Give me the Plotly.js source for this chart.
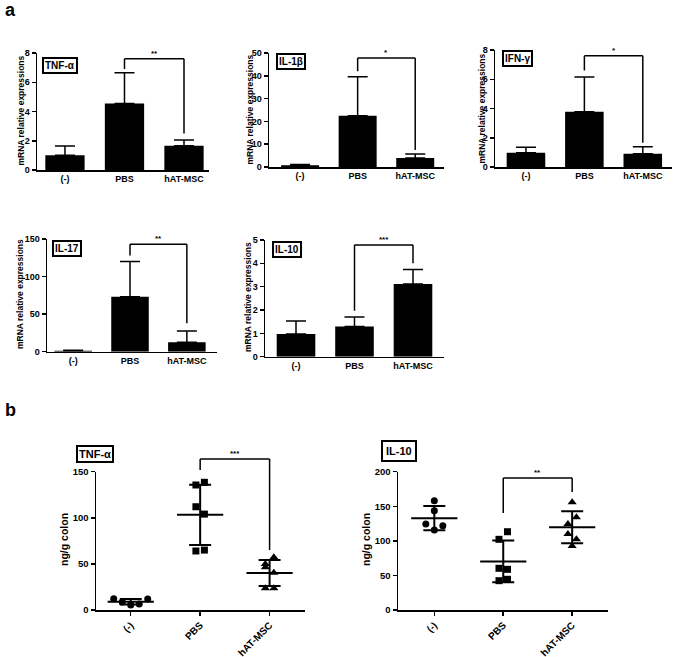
<!DOCTYPE html>
<html><head><meta charset="utf-8">
<script src="https://cdn.plot.ly/plotly-3.0.1.min.js"></script>
<style>html,body{margin:0;padding:0;background:#fff}#chart{width:675px;height:657px}</style>
</head><body><div id="chart"></div>
<script>
// ---------- DATA ----------
const groups = ['(-)', 'PBS', 'hAT-MSC'];
const namesA = ['TNF-α', 'IL-1β', 'IFN-γ', 'IL-17', 'IL-10'];
const namesB = ['TNF-α', 'IL-10'];
const yTitleA = 'mRNA relative expressions';
const yTitleB = 'ng/g colon';

// Panel a: mean and upper SD of mRNA relative expression
const tnfMean = [1.0, 4.55, 1.65];
const tnfErr  = [0.64, 2.1, 0.4];
const il1bMean = [0.8, 22.5, 3.9];
const il1bErr  = [0.35, 17.1, 1.8];
const ifngMean = [0.98, 3.78, 0.91];
const ifngErr  = [0.37, 2.37, 0.48];
const il17Mean = [1.2, 73, 12.5];
const il17Err  = [0.8, 47, 15];
const il10Mean = [0.97, 1.29, 3.11];
const il10Err  = [0.56, 0.41, 0.63];

// Panel b: individual animals, ng/g colon
const tnfNeg = [12.2, 8.7, 5.4, 6.5, 11.9];
const tnfPBS = [135.6, 138.5, 112, 104, 64, 65];
const tnfHAT = [49.9, 57.2, 46.3, 40.5, 23.5, 23.5];
const il10Neg = [158, 143.6, 124.4, 115.7, 122];
const il10PBS = [102.2, 113.2, 60.3, 58.8, 42.4, 44.4];
const il10HAT = [155.7, 124.3, 134, 109.9, 102.2, 92.5];

// Significance marks and bracket levels [left leg bottom, top, right leg bottom]
const sigA = ['**', '*', '*', '**', '***'];
const sigB = ['***', '**'];
const brA = [[6.9, 7.6, 2.5], [42, 47.8, 7.5], [6.6, 7.6, 1.65], [128, 143, 38], [1.97, 4.79, 4.0]];
const brB = [[151.8, 163.8, 65], [140.3, 190.9, 170.7]];

// ---------- LAYOUT HELPERS ----------
const W = 675, H = 657;
const FONT = 'Liberation Sans, Arial, sans-serif';
const BOLD = (size) => ({family: FONT, size: size, color: '#000', weight: 'bold'});
const domX = (p) => [p[0] / W, p[1] / W];
const domY = (p) => [1 - p[1] / H, 1 - p[0] / H];
const sfx = (i) => (i === 1 ? '' : String(i));

const barPanels = [
  {mean: tnfMean,  err: tnfErr,  ymax: 8,   dtick: 2,  px: [37, 209],  py: [53, 170],    xr: [-0.47, 2.42], box: [42, 57],   yt: [20.5, 111]},
  {mean: il1bMean, err: il1bErr, ymax: 50,  dtick: 10, px: [269, 444], py: [53, 167],    xr: [-0.54, 2.5],  box: [276, 53],  yt: [249.5, 110]},
  {mean: ifngMean, err: ifngErr, ymax: 8,   dtick: 2,  px: [495, 672], py: [50, 167],    xr: [-0.53, 2.5],  box: [502, 50],  yt: [481.5, 109]},
  {mean: il17Mean, err: il17Err, ymax: 150, dtick: 50, px: [47, 217],  py: [239, 351.7], xr: [-0.46, 2.53], box: [52, 240],  yt: [20, 294]},
  {mean: il10Mean, err: il10Err, ymax: 5,   dtick: 1,  px: [265, 444], py: [240, 356.7], xr: [-0.53, 2.53], box: [272, 241], yt: [248, 297]}
];
const scatPanels = [
  {sets: [tnfNeg, tnfPBS, tnfHAT],    ymax: 150, dtick: 50, px: [96, 305],  py: [471.7, 610], xr: [-0.5, 2.51],  box: [76, 445],  yt: [64, 540], pad: 1},
  {sets: [il10Neg, il10PBS, il10HAT], ymax: 200, dtick: 50, px: [398, 608], py: [471.7, 610], xr: [-0.527, 2.52], box: [381, 440], yt: [366, 540], pad: 3}
];
const symbols = ['circle', 'square', 'triangle-up'];

const traces = [];
const layout = {
  width: W, height: H, margin: {l: 0, r: 0, t: 0, b: 0},
  paper_bgcolor: '#fff', plot_bgcolor: '#fff', showlegend: false,
  font: {family: FONT, color: '#000'},
  shapes: [], annotations: []
};

function axisBase() {
  return {showline: true, linecolor: '#000', linewidth: 1.5, showgrid: false, zeroline: false, fixedrange: true,
          tickcolor: '#000', tickwidth: 1.5};
}

function addBracket(i, p, br, sig) {
  const fx = (v) => (v - p.xr[0]) / (p.xr[1] - p.xr[0]);
  const xs = [fx(1), fx(2)];
  const ys = br.map(v => v / p.ymax);
  const xref = 'x' + sfx(i) + ' domain', yref = 'y' + sfx(i) + ' domain';
  const ln = {color: '#000', width: 1.5};
  layout.shapes.push({type: 'line', xref, yref, x0: xs[0], x1: xs[0], y0: ys[0], y1: ys[1], line: ln});
  layout.shapes.push({type: 'line', xref, yref, x0: xs[0], x1: xs[1], y0: ys[1], y1: ys[1], line: ln});
  layout.shapes.push({type: 'line', xref, yref, x0: xs[1], x1: xs[1], y0: ys[1], y1: ys[2], line: ln});
  layout.annotations.push({xref, yref, x: fx(1.5), y: ys[1], text: sig, showarrow: false,
    xanchor: 'center', yanchor: 'bottom', yshift: -1, font: BOLD(8)});
}

function addBox(p, text, size) {
  layout.annotations.push({xref: 'paper', yref: 'paper', x: p.box[0] / W, y: 1 - p.box[1] / H, xanchor: 'left', yanchor: 'top',
    text: text, showarrow: false, bordercolor: '#000', borderwidth: 2, borderpad: p.pad || 1, bgcolor: '#fff', font: BOLD(size)});
}
function addYTitle(p, text, size) {
  layout.annotations.push({xref: 'paper', yref: 'paper', x: p.yt[0] / W, y: 1 - p.yt[1] / H, xanchor: 'center', yanchor: 'middle',
    text: text, textangle: -90, showarrow: false, font: BOLD(size)});
}

// ---------- PANEL a: bars ----------
barPanels.forEach((p, k) => {
  const i = k + 1, s = sfx(i);
  traces.push({type: 'bar', x: groups, y: p.mean, xaxis: 'x' + s, yaxis: 'y' + s, width: 0.66,
    marker: {color: '#000', line: {width: 0}},
    error_y: {type: 'data', symmetric: false, array: p.err, arrayminus: p.err.map(() => 0),
              color: '#000', thickness: 1.5, width: 10}});
  layout['xaxis' + s] = Object.assign(axisBase(), {domain: domX(p.px), anchor: 'y' + s, type: 'category',
    categoryarray: groups, range: p.xr, ticks: '', tickfont: BOLD(9)});
  layout['yaxis' + s] = Object.assign(axisBase(), {domain: domY(p.py), anchor: 'x' + s, range: [0, p.ymax],
    tick0: 0, dtick: p.dtick, ticks: 'outside', ticklen: 4, tickfont: BOLD(9)});
  addBracket(i, p, brA[k], sigA[k]);
  addBox(p, namesA[k], 10);
  addYTitle(p, yTitleA, 8.5);
});

// ---------- PANEL b: scatter dot plots ----------
function swarm(values, pxPerUnit, tolPx, stepPx) {
  const order = values.map((v, j) => j).sort((a, b) => values[b] - values[a]);
  const rows = []; let cur = null;
  order.forEach(j => {
    if (cur && (values[cur[0]] - values[j]) * pxPerUnit <= tolPx) cur.push(j);
    else { cur = [j]; rows.push(cur); }
  });
  const off = values.map(() => 0);
  rows.forEach(r => { r.sort((a, b) => a - b); r.forEach((j, q) => { off[j] = (q - (r.length - 1) / 2) * stepPx; }); });
  return off;
}
const meanOf = a => a.reduce((s, v) => s + v, 0) / a.length;
const sdOf = a => { const m = meanOf(a); return Math.sqrt(a.reduce((s, v) => s + (v - m) * (v - m), 0) / (a.length - 1)); };

scatPanels.forEach((p, k) => {
  const i = 6 + k, s = sfx(i);
  const pxPerY = (p.py[1] - p.py[0]) / p.ymax;
  const pxPerX = (p.px[1] - p.px[0]) / (p.xr[1] - p.xr[0]);
  p.sets.forEach((vals, g) => {
    const off = swarm(vals, pxPerY, 8, 8.5);
    traces.push({type: 'scatter', mode: 'markers', xaxis: 'x' + s, yaxis: 'y' + s, cliponaxis: false,
      x: vals.map((v, j) => g + off[j] / pxPerX), y: vals,
      marker: {symbol: symbols[g], size: g === 2 ? 8 : 7, color: '#000', line: {width: 0}}});
    traces.push({type: 'scatter', mode: 'markers', xaxis: 'x' + s, yaxis: 'y' + s, cliponaxis: false,
      x: [g], y: [meanOf(vals)],
      marker: {symbol: 'line-ew', size: 33, color: '#000', line: {width: 2, color: '#000'}},
      error_y: {type: 'data', array: [sdOf(vals)], color: '#000', thickness: 2, width: 11}});
  });
  layout['xaxis' + s] = Object.assign(axisBase(), {domain: domX(p.px), anchor: 'y' + s, range: p.xr,
    tickvals: [0, 1, 2], ticktext: groups, tickangle: -45, ticks: 'outside', ticklen: 4, tickfont: BOLD(10)});
  layout['yaxis' + s] = Object.assign(axisBase(), {domain: domY(p.py), anchor: 'x' + s, range: [0, p.ymax],
    tick0: 0, dtick: p.dtick, ticks: 'outside', ticklen: 4, tickfont: BOLD(9.5)});
  addBracket(i, p, brB[k], sigB[k]);
  addBox(p, namesB[k], 11);
  addYTitle(p, yTitleB, 10.5);
});

// panel letters
layout.annotations.push({xref: 'paper', yref: 'paper', x: 3 / W, y: 1 - 10 / H, xanchor: 'left', yanchor: 'middle',
  text: 'a', showarrow: false, font: BOLD(18)});
layout.annotations.push({xref: 'paper', yref: 'paper', x: 3 / W, y: 1 - 410 / H, xanchor: 'left', yanchor: 'middle',
  text: 'b', showarrow: false, font: BOLD(18)});

Plotly.newPlot('chart', traces, layout, {staticPlot: true, displayModeBar: false});
</script>
</body></html>
